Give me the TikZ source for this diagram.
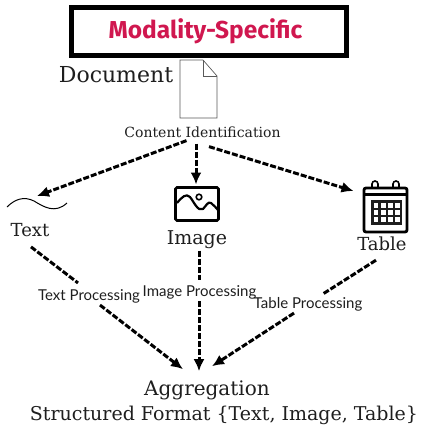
\documentclass[tikz,border=0pt]{standalone}
\usepackage{fontspec}
\setmainfont{DejaVu Serif}
\newfontfamily\handfont{Lato}
\newfontfamily\titlefont{Fira Sans}
\usetikzlibrary{calc, arrows.meta}
\definecolor{titlepink}{HTML}{D0174F}
\definecolor{inkgray}{HTML}{1E1E1E}
\tikzset{
  flow/.style={line width=3pt, dash pattern=on 6pt off 2pt, -{Latex[length=12pt,width=11pt]}},
  plainflow/.style={line width=3pt, dash pattern=on 6pt off 2pt},
  label/.style={text=inkgray, inner sep=2pt},
  proc/.style={font=\handfont\fontsize{15}{17}\selectfont, text=inkgray, inner sep=1pt},
  iconbox/.style={inner sep=0pt, outer sep=0pt}
}
\begin{document}
\begin{tikzpicture}[x=1pt, y=-1pt]
  \useasboundingbox (0,0) rectangle (424,434);
  \node[draw, line width=5pt, minimum width=275pt, minimum height=48pt, inner sep=0pt,
    font=\titlefont\bfseries\fontsize{24.5}{28}\selectfont, text=titlepink] (title) at (208.5,31.5) {\hspace{-6pt}Modality-Specific};
  \node[label, font=\fontsize{22}{25}\selectfont] (document) at (116,75) {Document};
  \node[iconbox, minimum width=37pt, minimum height=58pt] (page) at (198.5,89) {};
  \draw[gray!70!black, line width=0.7pt] (page.north west) -- ([xshift=23pt]page.north west)
    -- ([yshift=-16pt]page.north east) -- (page.south east) -- (page.south west) -- cycle;
  \draw[gray!70!black, line width=0.7pt] ([xshift=23pt]page.north west) -- ([xshift=23pt,yshift=-16pt]page.north west)
    -- ([yshift=-16pt]page.north east);
  \node[label, font=\fontsize{14}{16}\selectfont] (content) at (202.5,132) {Content Identification};

  \node[iconbox, minimum width=60pt, minimum height=16pt] (texticon) at (37,204) {};
  \draw[line width=1pt] (7,207) .. controls (15,199) and (24,196) .. (34,201)
    .. controls (44,207) and (55,214) .. (67,203);
  \node[draw, iconbox, line width=2.6pt, rounded corners=1.5pt, minimum width=43pt, minimum height=33pt] (imageicon) at (197,204) {};
  \draw[line width=2.2pt, line join=round] (177,203) .. controls (182,197) and (186,193) .. (190,197)
    .. controls (194,202) and (198,212) .. (203,209) .. controls (206,206) and (208,201) .. (211,203)
    .. controls (214,205) and (216,208) .. (218,210);
  \draw[line width=1.6pt] (199,197) circle (2.8pt);
  \node[draw, iconbox, line width=2.8pt, rounded corners=2pt, minimum width=43pt, minimum height=44pt] (tableicon) at (385.5,210) {};
  \draw[line width=2.2pt] (tableicon.west |- 0,194.5) -- (tableicon.east |- 0,194.5);
  \draw[line width=1.6pt] (372,187) -- (372,184) arc (180:0:3pt) -- (378,187);
  \draw[line width=1.6pt] (393,187) -- (393,184) arc (180:0:3pt) -- (399,187);
  \fill[inkgray] (371,200) rectangle (402,225);
  \foreach \col in {0,1,2,3}
    \foreach \row in {0,1,2}
      \fill[white] (373.5+7.2*\col,203+7.2*\row) rectangle +(4.8,4.6);

  \node[label, font=\fontsize{18}{21}\selectfont] (text) at (30,230) {Text};
  \node[label, font=\fontsize{19}{22}\selectfont] (image) at (197,239.5) {Image};
  \node[label, font=\fontsize{18}{21}\selectfont] (table) at (382,244) {Table};

  \node[proc] (textproc) at (89,296) {Text Processing};
  \node[proc] (imageproc) at (199.5,292) {Image Processing};
  \node[proc] (tableproc) at (308,304) {Table Processing};
  \node[label, font=\fontsize{20}{23}\selectfont] (aggregation) at (207,390) {Aggregation};
  \node[label, font=\fontsize{19}{22}\selectfont] (structured) at (224,415) {Structured Format \{Text, Image, Table\}};

  \draw[flow] ([shift={(-16,1)}]content.south) -- (texticon.north);
  \draw[flow] ([shift={(-6.5,4)}]content.south) -- ([shift={(-1,-3)}]imageicon.north);
  \draw[flow] ([shift={(6.5,7)}]content.south) -- ([shift={(-32,3)}]tableicon.north);

  \draw[plainflow] ([shift={(1,8)}]text.south) -- ([shift={(-11,-5)}]textproc.north);
  \draw[plainflow] ([shift={(2,0)}]image.south) -- ([shift={(-.5,-4)}]imageproc.north);
  \draw[plainflow] ([shift={(-6,7)}]table.south) -- ([shift={(15,-2)}]tableproc.north);

  \draw[flow] ([shift={(11,1)}]textproc.south) -- ([shift={(-24,-9)}]aggregation.north);
  \draw[flow] ([shift={(-.5,1)}]imageproc.south) -- ([shift={(-8,-7)}]aggregation.north);
  \draw[flow] ([shift={(-14,1)}]tableproc.south) -- ([shift={(5,-12)}]aggregation.north);
\end{tikzpicture}
\end{document}
